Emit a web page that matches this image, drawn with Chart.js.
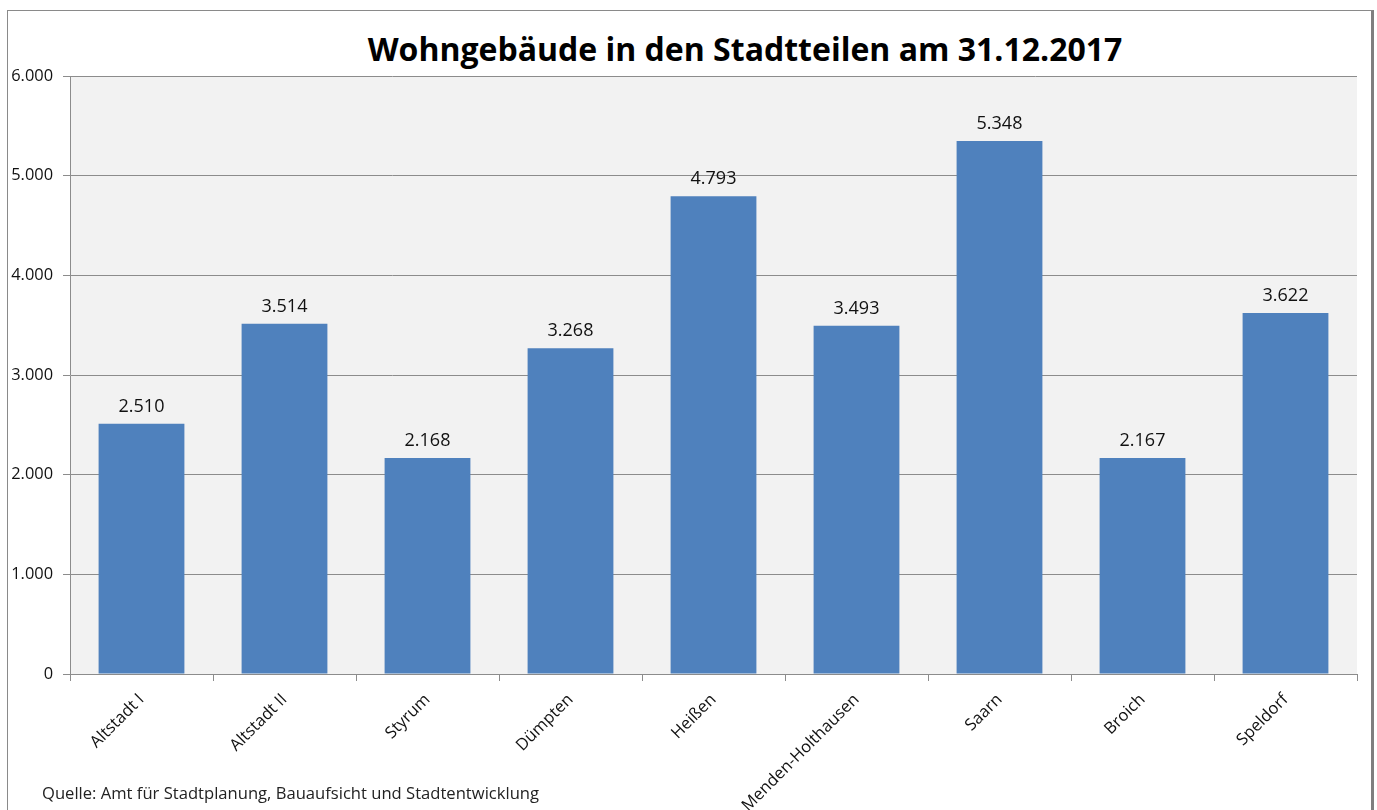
<!DOCTYPE html>
<html>
<head>
<meta charset="utf-8">
<script src="https://cdn.jsdelivr.net/npm/chart.js@4"></script>
<style>
    html, body { margin: 0; padding: 0; background: #ffffff; overflow: hidden; }
    #wrap { position: relative; width: 1377px; height: 810px; }
    #frame {
        position: absolute; left: 7px; top: 10px; width: 1363px; height: 820px;
        border: 1px solid #8a8a8a; border-right: 3px solid #7f7f7f;
    }
    #title {
        position: absolute; left: 0; top: 27px; width: 1490px; text-align: center;
        font-family: "Open Sans", sans-serif; font-weight: bold; font-size: 32px; color: #000;
    }
    #source {
        position: absolute; left: 42px; top: 781px;
        font-family: "Open Sans", sans-serif; font-size: 16.6px; color: #222;
    }
    canvas { position: absolute; left: 0; top: 0; }
</style>
</head>
<body>
<div id="wrap">
    <div id="frame"></div>
    <div id="title">Wohngebäude in den Stadtteilen am 31.12.2017</div>
    <canvas id="wohnChart" width="1377" height="810"></canvas>
    <div id="source">Quelle: Amt für Stadtplanung, Bauaufsicht und Stadtentwicklung</div>
</div>
<script>
// Data
const stadtteile = ['Altstadt I', 'Altstadt II', 'Styrum', 'Dümpten', 'Heißen', 'Menden-Holthausen', 'Saarn', 'Broich', 'Speldorf'];
const gebaeude = [2510, 3514, 2168, 3268, 4793, 3493, 5348, 2167, 3622];
const yTicks = [0, 1000, 2000, 3000, 4000, 5000, 6000];

// German thousands separator
function fmt(v) {
    return String(v).replace(/\B(?=(\d{3})+(?!\d))/g, '.');
}

const plotBackground = {
    id: 'plotBackground',
    beforeDraw(chart) {
        const { ctx, chartArea } = chart;
        ctx.save();
        ctx.fillStyle = '#f2f2f2';
        ctx.fillRect(chartArea.left, chartArea.top, chartArea.right - chartArea.left, chartArea.bottom - chartArea.top);
        ctx.restore();
    }
};

const valueLabels = {
    id: 'valueLabels',
    afterDatasetsDraw(chart) {
        const { ctx } = chart;
        const meta = chart.getDatasetMeta(0);
        ctx.save();
        ctx.font = '18px "Open Sans", sans-serif';
        ctx.fillStyle = '#111';
        ctx.textAlign = 'center';
        ctx.textBaseline = 'bottom';
        meta.data.forEach((bar, i) => {
            ctx.fillText(fmt(gebaeude[i]), bar.x, bar.y - 8);
        });
        ctx.restore();
    }
};

document.addEventListener('DOMContentLoaded', () => {
    const ctx = document.getElementById('wohnChart');
    new Chart(ctx, {
        type: 'bar',
        data: {
            labels: stadtteile,
            datasets: [{
                label: 'Wohngebäude',
                data: gebaeude,
                backgroundColor: '#4f81bd',
                borderWidth: 0,
                categoryPercentage: 0.6,
                barPercentage: 1.0
            }]
        },
        options: {
            responsive: false,
            animation: false,
            layout: {
                padding: { top: 76, right: 20, left: 0, bottom: 0 }
            },
            scales: {
                x: {
                    offset: true,
                    grid: {
                        offset: true,
                        drawOnChartArea: false,
                        drawTicks: true,
                        tickLength: 7,
                        color: '#8c8c8c'
                    },
                    border: { display: true, color: '#8c8c8c' },
                    ticks: {
                        minRotation: 45,
                        maxRotation: 45,
                        autoSkip: false,
                        padding: 9,
                        color: '#111',
                        font: { family: '"Open Sans", sans-serif', size: 16.5 }
                    },
                    afterFit: (scale) => { scale.height = 136; }
                },
                y: {
                    min: 0,
                    max: 6000,
                    afterBuildTicks: (scale) => { scale.ticks = yTicks.map(v => ({ value: v })); },
                    grid: {
                        color: '#8c8c8c',
                        tickLength: 7
                    },
                    border: { display: true, color: '#8c8c8c' },
                    ticks: {
                        padding: 10,
                        color: '#111',
                        font: { family: '"Open Sans", sans-serif', size: 16.4 },
                        callback: (v) => fmt(v)
                    },
                    afterFit: (scale) => { scale.width = 70; }
                }
            },
            plugins: {
                legend: { display: false },
                tooltip: { enabled: false }
            }
        },
        plugins: [plotBackground, valueLabels]
    });
});
</script>
</body>
</html>
